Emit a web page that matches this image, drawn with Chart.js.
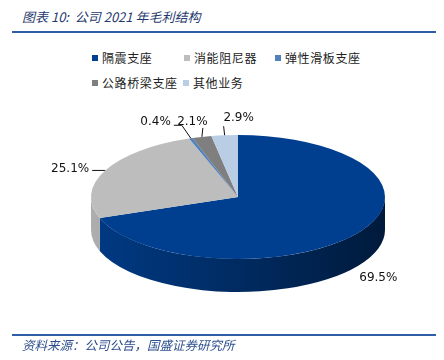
<!DOCTYPE html>
<html>
<head>
<meta charset="utf-8">
<script src="https://cdn.jsdelivr.net/npm/chart.js@4/dist/chart.umd.min.js"></script>
<style>
    body { margin: 0; background: #fff; }
    #wrap { position: relative; width: 444px; height: 360px; overflow: hidden; font-family: "Noto Sans CJK SC", sans-serif; }
    #pieChart { position: absolute; left: 0; top: 0; }
    .title { position: absolute; left: 22px; top: 7px; font-size: 13px; font-style: italic; color: #1f3a6e; white-space: nowrap; }
    .rule { position: absolute; left: 12px; width: 424px; height: 2px; background: #2f5da6; }
    .source { position: absolute; left: 22px; top: 335px; font-size: 12.5px; font-style: italic; color: #2e4f8f; white-space: nowrap; }
    .legend-item { position: absolute; font-size: 12px; color: #222; white-space: nowrap; letter-spacing: 0.6px; line-height: 14px; }
    .legend-item i { display: inline-block; width: 6px; height: 6px; margin-right: 4px; vertical-align: 2px; }
</style>
</head>
<body>
<div id="wrap">
    <div class="title">图表 10:&nbsp; 公司 2021 年毛利结构</div>
    <div class="rule" style="top: 31px;"></div>
    <div id="legend"></div>
    <canvas id="pieChart" width="444" height="360"></canvas>
    <div class="rule" style="top: 334px;"></div>
    <div class="source">资料来源：公司公告，国盛证券研究所</div>
</div>
<script>
const categories = ["隔震支座", "消能阻尼器", "弹性滑板支座", "公路桥梁支座", "其他业务"];
const shares = [69.5, 25.1, 0.4, 2.1, 2.9];
const labels = ["69.5%", "25.1%", "0.4%", "2.1%", "2.9%"];
const colors = ["#003f8f", "#bdbdbd", "#4f81bd", "#7f7f7f", "#b9cde5"];

// legend slots (left, top) in two rows
const legendSlots = [[92, 51], [184, 51], [275, 51], [92, 76], [183, 76]];

// 3d look
const TILT = 62 / 147;
const DEPTH = 33;

// label placement relative to the slice's rim point
const labelLayout = [
    { leader: [], dx: 1, dy: 45, align: "left" },
    { leader: [[-1, 0], [-13, 0]], dx: -16, dy: -2, align: "right" },
    { leader: [[-9, -13], [-17, -13]], dx: -20, dy: -16, align: "right" },
    { leader: [[1, -9]], dx: -9.5, dy: -15, align: "center" },
    { leader: [[-1, -9]], dx: 14, dy: -17, align: "center" },
];

function shade(hex, f) {
    const n = parseInt(hex.slice(1), 16);
    const r = Math.round(((n >> 16) & 255) * f);
    const g = Math.round(((n >> 8) & 255) * f);
    const b = Math.round((n & 255) * f);
    return `rgb(${r}, ${g}, ${b})`;
}

function buildLegend() {
    const box = document.getElementById("legend");
    categories.forEach((name, i) => {
        const item = document.createElement("div");
        item.className = "legend-item";
        item.style.left = legendSlots[i][0] + "px";
        item.style.top = legendSlots[i][1] + "px";
        item.innerHTML = `<i style="background:${colors[i]}"></i>${name}`;
        box.appendChild(item);
    });
}

const pie3d = {
    id: "pie3d",
    beforeDatasetsDraw(chart) {
        const ctx = chart.ctx;
        const arcs = chart.getDatasetMeta(0).data;
        const cx = arcs[0].x;
        const cy = arcs[0].y;
        const r = arcs[0].outerRadius;
        const ry = r * TILT;

        // side walls, only the front half is visible
        arcs.forEach((arc, i) => {
            const s = Math.max(arc.startAngle, 0);
            const e = Math.min(arc.endAngle, Math.PI);
            if (e <= s) return;
            const grad = ctx.createLinearGradient(cx - r, 0, cx + r, 0);
            grad.addColorStop(0, shade(colors[i], 0.92));
            grad.addColorStop(0.5, shade(colors[i], 0.68));
            grad.addColorStop(1, shade(colors[i], 0.42));
            ctx.beginPath();
            ctx.ellipse(cx, cy, r, ry, 0, s, e, false);
            ctx.lineTo(cx + r * Math.cos(e), cy + ry * Math.sin(e) + DEPTH);
            ctx.ellipse(cx, cy + DEPTH, r, ry, 0, e, s, true);
            ctx.closePath();
            ctx.fillStyle = grad;
            ctx.fill();
        });

        // squash the top face
        ctx.save();
        ctx.translate(cx, cy);
        ctx.scale(1, TILT);
        ctx.translate(-cx, -cy);
    },
    afterDatasetsDraw(chart) {
        const ctx = chart.ctx;
        ctx.restore();

        const arcs = chart.getDatasetMeta(0).data;
        ctx.save();
        ctx.font = "12px 'DejaVu Sans'";
        ctx.fillStyle = "#111";
        ctx.strokeStyle = "#111";
        ctx.lineWidth = 1;
        ctx.textBaseline = "middle";
        arcs.forEach((arc, i) => {
            const mid = (arc.startAngle + arc.endAngle) / 2;
            const px = arc.x + arc.outerRadius * Math.cos(mid);
            const py = arc.y + arc.outerRadius * TILT * Math.sin(mid);
            const lay = labelLayout[i];
            if (lay.leader.length) {
                ctx.beginPath();
                ctx.moveTo(px, py);
                lay.leader.forEach(([lx, ly]) => ctx.lineTo(px + lx, py + ly));
                ctx.stroke();
            }
            ctx.textAlign = lay.align;
            ctx.fillText(labels[i], px + lay.dx, py + lay.dy);
        });
        ctx.restore();
    },
};

function drawPie() {
    const ctx = document.getElementById("pieChart").getContext("2d");
    new Chart(ctx, {
        type: "pie",
        data: {
            labels: categories,
            datasets: [
                {
                    data: shares,
                    backgroundColor: colors,
                    borderWidth: 0,
                },
            ],
        },
        options: {
            responsive: false,
            animation: false,
            radius: 147,
            layout: { padding: { left: 32, right: 0, top: 34, bottom: 0 } },
            plugins: {
                legend: { display: false },
                tooltip: { enabled: false },
            },
        },
        plugins: [pie3d],
    });
}

document.addEventListener("DOMContentLoaded", () => {
    buildLegend();
    drawPie();
});
</script>
</body>
</html>
